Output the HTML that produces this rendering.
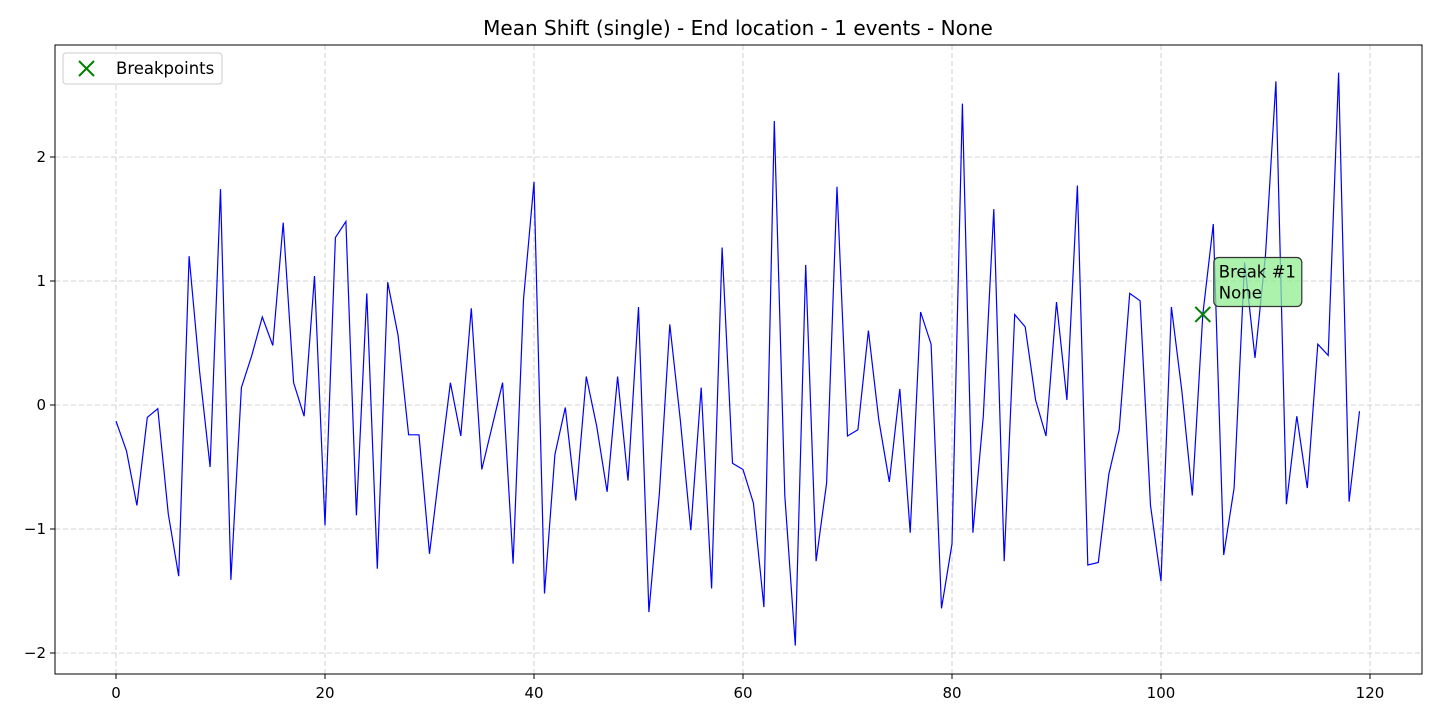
<!DOCTYPE html>
<html><head><meta charset="utf-8"><style>
html,body{margin:0;padding:0;background:#fff;}
svg{display:block;font-family:"DejaVu Sans","Liberation Sans",sans-serif;}
</style></head><body>
<svg id="chart" width="1440" height="720" xmlns="http://www.w3.org/2000/svg">
<rect width="1440" height="720" fill="#fff"/>
<text x="738" y="35" font-size="20" text-anchor="middle" fill="#000">Mean Shift (single) - End location - 1 events - None</text>
<g id="grid"></g>
<g id="axes"></g>
<g id="series"></g>
<rect x="55" y="45" width="1367" height="629" fill="none" stroke="#000" stroke-width="1"/>
<g>
<rect x="63" y="53" width="159" height="31" rx="3" fill="#fff" fill-opacity="0.8" stroke="#ccc"/>
<path d="M79,61 L94,76 M94,61 L79,76" stroke="green" stroke-width="2"/>
<text x="116" y="74" font-size="16.5" fill="#000">Breakpoints</text>
</g>
</svg>
<script>
const xValues = Array.from({length:120},(_, i)=>i);
const yValues = [-0.13,-0.37,-0.81,-0.10,-0.03,-0.88,-1.38,1.20,0.27,-0.50,
1.74,-1.41,0.14,0.40,0.71,0.48,1.47,0.18,-0.09,1.04,
-0.97,1.35,1.48,-0.89,0.90,-1.32,0.99,0.56,-0.24,-0.24,
-1.20,-0.50,0.18,-0.25,0.78,-0.52,-0.17,0.18,-1.28,0.85,
1.80,-1.52,-0.40,-0.02,-0.77,0.23,-0.17,-0.70,0.23,-0.61,
0.79,-1.67,-0.71,0.65,-0.12,-1.01,0.14,-1.48,1.27,-0.47,
-0.52,-0.79,-1.63,2.29,-0.73,-1.94,1.13,-1.26,-0.63,1.76,
-0.25,-0.20,0.60,-0.12,-0.62,0.13,-1.03,0.75,0.49,-1.64,
-1.12,2.43,-1.03,-0.09,1.58,-1.26,0.73,0.63,0.04,-0.25,
0.83,0.04,1.77,-1.29,-1.27,-0.56,-0.20,0.90,0.84,-0.81,
-1.42,0.79,0.11,-0.73,0.73,1.46,-1.21,-0.67,1.15,0.38,
1.21,2.61,-0.80,-0.09,-0.67,0.49,0.40,2.68,-0.78,-0.05];
const xTicks = [0,20,40,60,80,100,120];
const yTicks = [-2,-1,0,1,2];
const yTickLabels = ["\u22122","\u22121","0","1","2"];
const breakX = [104];
const breakY = [0.73];
const breakLabels = [["Break #1","None"]];

const NS="http://www.w3.org/2000/svg";
const xs = v => 116 + v*10.45;
const ys = v => 405 - v*124;
function mk(tag, attrs, parent){const e=document.createElementNS(NS,tag);for(const k in attrs)e.setAttribute(k,attrs[k]);parent.appendChild(e);return e;}
const grid=document.getElementById('grid'), axes=document.getElementById('axes'), series=document.getElementById('series');
xTicks.forEach(t=>{
  const x=xs(t);
  const g=mk('line',{x1:x,x2:x,y1:45,y2:674,stroke:'#b0b0b0','stroke-opacity':0.6,'stroke-dasharray':'5,3'},grid);
  
  
  const tk=mk('line',{x1:x,x2:x,y1:674,y2:679,stroke:'#000'},axes);
  
  
  const lb=mk('text',{x:x,y:698,'font-size':15,'text-anchor':'middle',fill:'#000'},axes);
  lb.textContent=t;
  
  
});
yTicks.forEach((t,i)=>{
  const y=ys(t);
  const g=mk('line',{x1:55,x2:1422,y1:y,y2:y,stroke:'#b0b0b0','stroke-opacity':0.6,'stroke-dasharray':'5,3'},grid);
  
  
  const tk=mk('line',{x1:50,x2:55,y1:y,y2:y,stroke:'#000'},axes);
  
  
  const lb=mk('text',{x:46,y:y+5,'font-size':15,'text-anchor':'end',fill:'#000'},axes);
  lb.textContent=yTickLabels[i];
  
  
});
const pts=xValues.map((x,i)=>xs(x).toFixed(1)+','+ys(yValues[i]).toFixed(1)).join(' ');
const line=mk('polyline',{points:pts,fill:'none',stroke:'#0000ff','stroke-width':1.2},series);


breakX.forEach((bx,i)=>{
  const x=xs(bx), y=ys(breakY[i]);
  const m=mk('path',{d:`M${x-7.5},${y-7.5} L${x+7.5},${y+7.5} M${x+7.5},${y-7.5} L${x-7.5},${y+7.5}`,stroke:'green','stroke-width':2},series);
  
  
  const g=mk('g',{},series);
  
  
  const r=mk('rect',{x:x+11,y:y-57,width:88,height:49,rx:5,fill:'#90ee90','fill-opacity':0.75,stroke:'#333','stroke-width':1.2},g);
  
  
  breakLabels[i].forEach((s,j)=>{
    const t=mk('text',{x:x+16,y:y-37+j*21,'font-size':16.5,fill:'#000'},g);
    t.textContent=s;
    
    
  });
});
</script>
</body></html>
